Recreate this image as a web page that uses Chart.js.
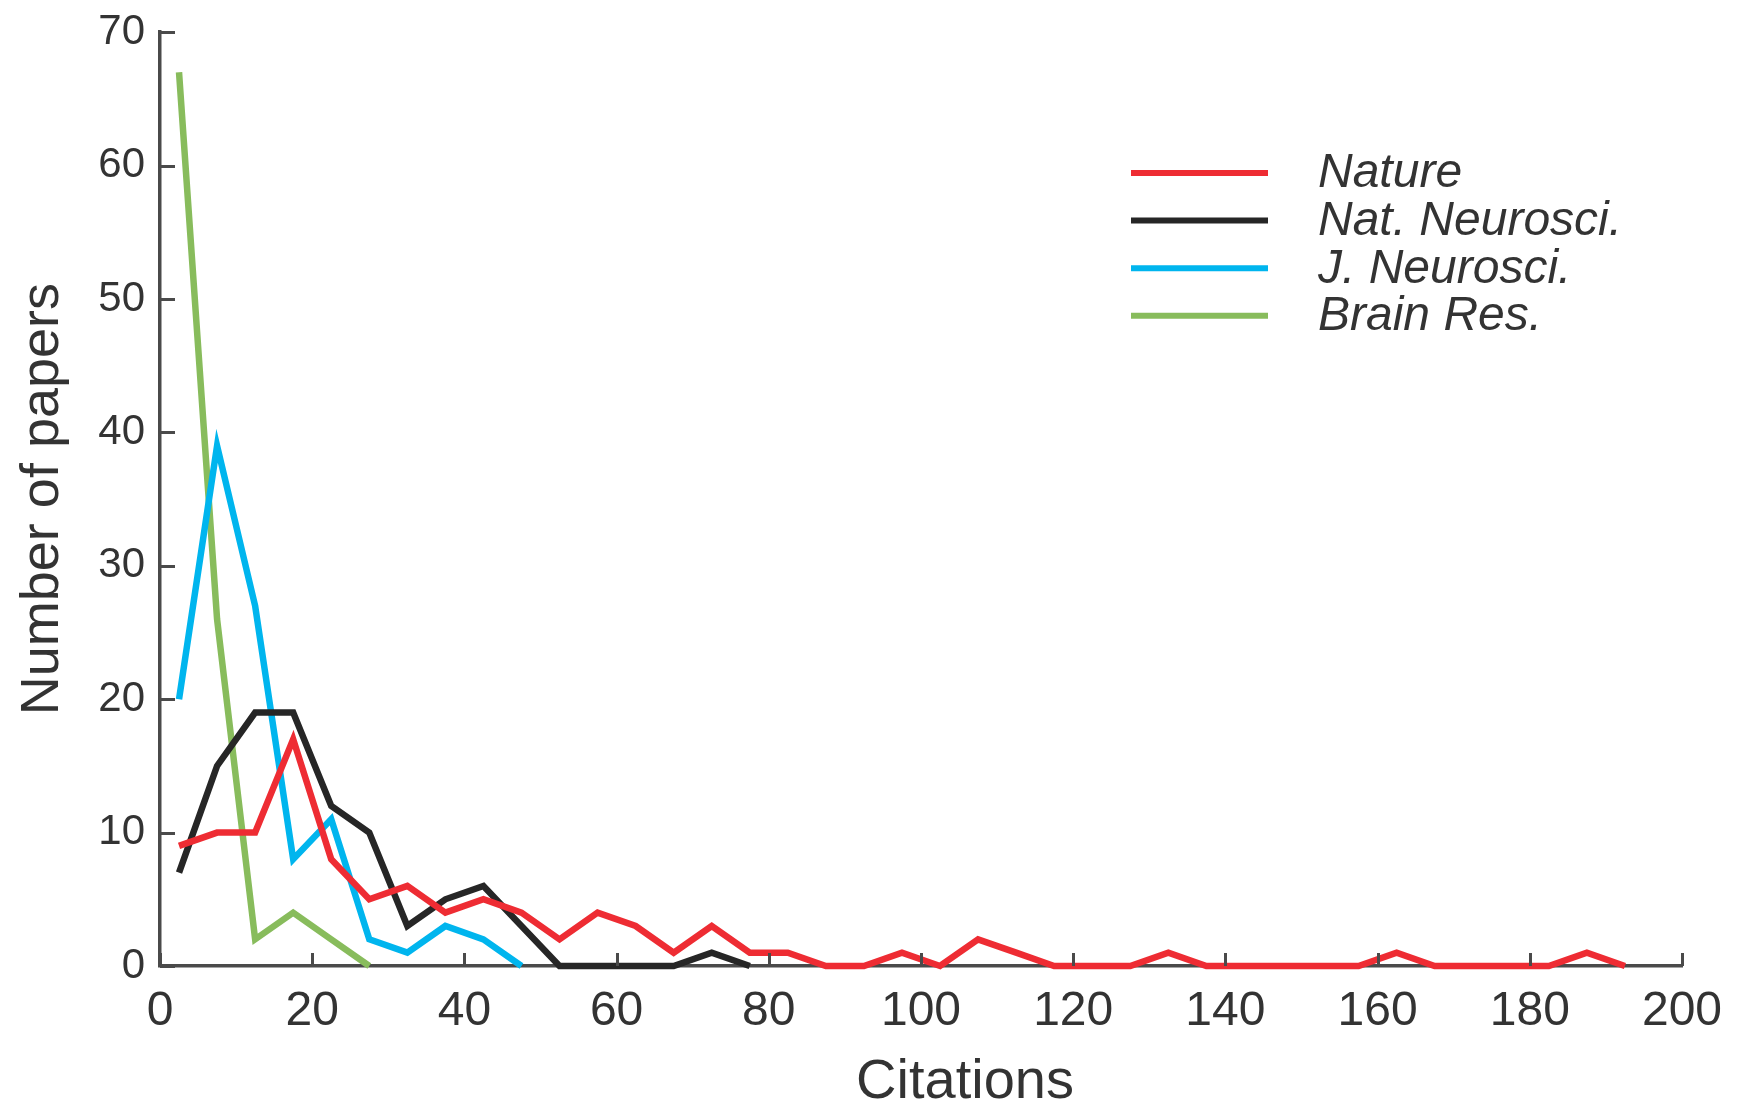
<!DOCTYPE html>
<html>
<head>
<meta charset="utf-8">
<script src="https://cdn.jsdelivr.net/npm/chart.js@4.4.1/dist/chart.umd.min.js"></script>
<style>
  html, body { margin: 0; padding: 0; background: #ffffff; }
  #wrap { width: 1738px; height: 1105px; position: relative; }
</style>
</head>
<body>
<div id="wrap"><canvas id="c" width="1738" height="1105"></canvas></div>
<script>
// ---- Data ----
const binCenters = [2.5, 7.5, 12.5, 17.5, 22.5, 27.5, 32.5, 37.5, 42.5, 47.5,
  52.5, 57.5, 62.5, 67.5, 72.5, 77.5, 82.5, 87.5, 92.5, 97.5,
  102.5, 107.5, 112.5, 117.5, 122.5, 127.5, 132.5, 137.5, 142.5, 147.5,
  152.5, 157.5, 162.5, 167.5, 172.5, 177.5, 182.5, 187.5, 192.5];

const seriesNames = ['Nature', 'Nat. Neurosci.', 'J. Neurosci.', 'Brain Res.'];

const nature      = [9, 10, 10, 17, 8, 5, 6, 4, 5, 4,
                     2, 4, 3, 1, 3, 1, 1, 0, 0, 1,
                     0, 2, 1, 0, 0, 0, 1, 0, 0, 0,
                     0, 0, 1, 0, 0, 0, 0, 1, 0];
const natNeurosci = [7, 15, 19, 19, 12, 10, 3, 5, 6, 3, 0, 0, 0, 0, 1, 0];
const jNeurosci   = [20, 39, 27, 8, 11, 2, 1, 3, 2, 0];
const brainRes    = [67, 26, 2, 4, 2, 0];

const xTicks = [0, 20, 40, 60, 80, 100, 120, 140, 160, 180, 200];
const yTicks = [0, 10, 20, 30, 40, 50, 60, 70];

const seriesColors = ['#ee2c33', '#262626', '#00b5ee', '#88bc5c'];
const AXIS_COLOR = '#4a4a4a';
const TEXT_COLOR = '#333333';

function toPoints(values) {
  return values.map((v, i) => ({ x: binCenters[i], y: v }));
}

const allSeries = [nature, natNeurosci, jNeurosci, brainRes];

const datasets = allSeries.map((vals, i) => ({
  label: seriesNames[i],
  data: toPoints(vals),
  borderColor: seriesColors[i],
  backgroundColor: seriesColors[i],
  borderWidth: 6.5,
  pointRadius: 0,
  tension: 0,
  fill: false,
  clip: false,
  borderJoinStyle: 'miter',
  borderCapStyle: 'butt'
}));

// Inward tick marks, legend and x title drawn with the scales' pixel mapping
const decorPlugin = {
  id: 'decor',
  afterDraw(chart) {
    const ctx = chart.ctx;
    const xs = chart.scales.x, ys = chart.scales.y;
    const area = chart.chartArea;
    ctx.save();
    ctx.strokeStyle = AXIS_COLOR;
    ctx.lineWidth = 3;
    ctx.lineCap = 'butt';
    yTicks.forEach(v => {
      const py = Math.round(ys.getPixelForValue(v)) + 0.5;
      ctx.beginPath();
      ctx.moveTo(area.left, py);
      ctx.lineTo(area.left + 15, py);
      ctx.stroke();
    });
    xTicks.forEach(v => {
      const px = Math.round(xs.getPixelForValue(v)) + 0.5;
      ctx.beginPath();
      ctx.moveTo(px, area.bottom);
      ctx.lineTo(px, area.bottom - 13);
      ctx.stroke();
    });

    // legend
    const lx0 = 1131, lx1 = 1268, tx = 1318, ly0 = 173, dy = 47.6;
    chart.data.datasets.forEach((ds, i) => {
      const y = ly0 + i * dy;
      ctx.strokeStyle = ds.borderColor;
      ctx.lineWidth = 6;
      ctx.beginPath();
      ctx.moveTo(lx0, y);
      ctx.lineTo(lx1, y);
      ctx.stroke();
      ctx.fillStyle = TEXT_COLOR;
      ctx.font = 'italic 48px "Liberation Sans", Arial, sans-serif';
      ctx.textAlign = 'left';
      ctx.textBaseline = 'middle';
      ctx.fillText(ds.label, tx, y + 1);
    });

    // x axis title
    ctx.fillStyle = TEXT_COLOR;
    ctx.font = '56px "Liberation Sans", Arial, sans-serif';
    ctx.textAlign = 'center';
    ctx.textBaseline = 'middle';
    ctx.fillText('Citations', 965, 1083);
    ctx.restore();
  }
};

new Chart(document.getElementById('c'), {
  type: 'line',
  data: { datasets },
  plugins: [decorPlugin],
  options: {
    responsive: false,
    animation: false,
    devicePixelRatio: 1,
    layout: { padding: { top: 21, right: 56, bottom: 0, left: 0 } },
    plugins: {
      legend: { display: false },
      tooltip: { enabled: false }
    },
    scales: {
      x: {
        type: 'linear',
        min: 0,
        max: 200,
        afterBuildTicks(scale) { scale.ticks = xTicks.map(v => ({ value: v })); },
        afterFit(scale) { scale.height = 139; },
        ticks: {
          color: TEXT_COLOR,
          font: { family: '"Liberation Sans", Arial, sans-serif', size: 48 },
          padding: 9,
          maxRotation: 0,
          autoSkip: false
        },
        grid: { display: false },
        border: { display: true, color: AXIS_COLOR, width: 3.5 },
        title: { display: false }
      },
      y: {
        type: 'linear',
        min: 0,
        max: 70,
        afterBuildTicks(scale) { scale.ticks = yTicks.map(v => ({ value: v })); },
        afterFit(scale) { scale.width = 160; },
        ticks: {
          color: TEXT_COLOR,
          font: { family: '"Liberation Sans", Arial, sans-serif', size: 42 },
          padding: 7,
          autoSkip: false
        },
        grid: { display: false },
        border: { display: true, color: AXIS_COLOR, width: 3.5 },
        title: {
          display: true,
          text: 'Number of papers',
          color: TEXT_COLOR,
          font: { family: '"Liberation Sans", Arial, sans-serif', size: 54 },
          padding: { top: 11, bottom: 0 }
        }
      }
    }
  }
});
</script>
</body>
</html>
